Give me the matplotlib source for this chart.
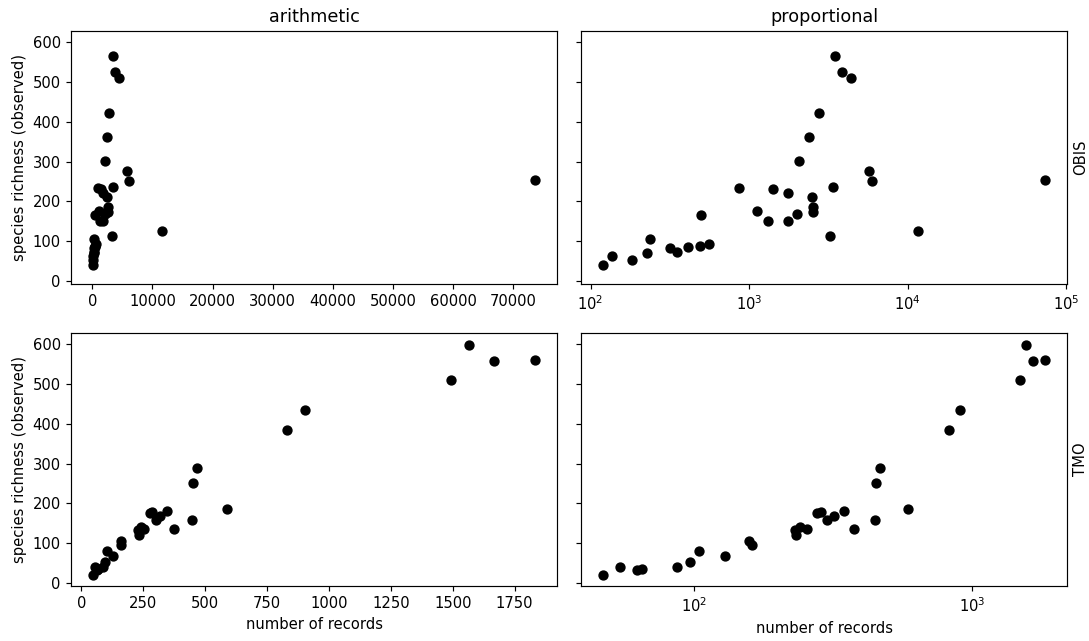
import matplotlib
matplotlib.use("Agg")
import matplotlib.pyplot as plt

# OBIS data
obis_records = [120, 136, 182, 226, 237, 316, 353, 414, 493, 495, 561, 861,
                1117, 1318, 1410, 1753, 1763, 2018, 2069, 2393, 2512, 2537,
                2537, 2782, 3250, 3377, 3474, 3847, 4405, 5754, 6012, 11563,
                73620]
obis_richness = [40, 64, 53, 70, 105, 84, 73, 87, 89, 167, 94, 233,
                 177, 151, 231, 221, 151, 169, 302, 362, 212, 187,
                 173, 422, 113, 236, 563, 523, 510, 275, 252, 125,
                 253]

# TMO data
tmo_records = [47, 54, 62, 65, 87, 97, 104, 129, 158, 161, 230, 233, 241,
               254, 277, 286, 301, 318, 345, 375, 446, 450, 465, 587, 829,
               905, 1495, 1565, 1665, 1832]
tmo_richness = [22, 42, 33, 37, 41, 53, 80, 68, 107, 97, 133, 121, 142,
                136, 175, 178, 159, 168, 180, 136, 159, 252, 289, 187, 384,
                433, 510, 598, 556, 558]

rows = ["OBIS", "TMO"]
cols = ["arithmetic", "proportional"]
data = {"OBIS": (obis_records, obis_richness), "TMO": (tmo_records, tmo_richness)}

dpi = 106
fig, axes = plt.subplots(2, 2, figsize=(1089 / dpi, 641 / dpi), dpi=dpi,
                         sharey=True)
fig.subplots_adjust(left=0.0652, right=0.9798, top=0.9516, bottom=0.0858,
                    wspace=0.0494, hspace=0.1937)

for i, row in enumerate(rows):
    x, y = data[row]
    for j, col in enumerate(cols):
        ax = axes[i, j]
        ax.plot(x, y, linestyle="none", marker="o", color="black", ms=6)
        if col == "proportional":
            ax.set_xscale("log")
            ax.xaxis.set_minor_locator(matplotlib.ticker.NullLocator())
        if i == 0:
            ax.set_title(col)
        if i == 1:
            ax.set_xlabel("number of records")
        if j == 0:
            ax.set_ylabel("species richness (observed)")
        else:
            ax.tick_params(labelleft=False)
            ax.annotate(row, xy=(1.012, 0.5), xycoords="axes fraction",
                        rotation=90, ha="left", va="center", fontsize=10)

fig.savefig("out.png", dpi=dpi)
